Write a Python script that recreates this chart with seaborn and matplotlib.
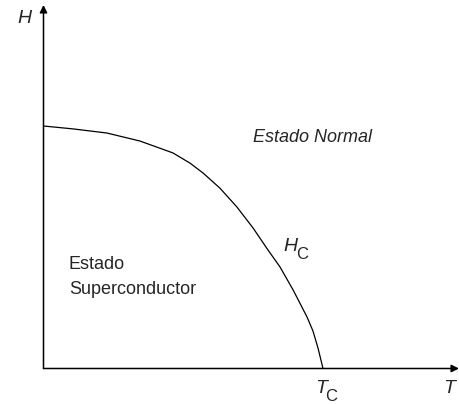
import matplotlib
matplotlib.use("Agg")
import matplotlib.pyplot as plt
import seaborn as sns
import pandas as pd

# Critical field curve H_c(T), temperature normalised to T_c and field to H_c(0)
temperature = [0.0, 0.106, 0.227, 0.345, 0.463, 0.524, 0.571, 0.631, 0.692,
               0.750, 0.803, 0.846, 0.893, 0.943, 0.964, 0.982, 1.0]
critical_field = [1.0, 0.988, 0.971, 0.938, 0.889, 0.847, 0.806, 0.744, 0.666,
                  0.579, 0.489, 0.419, 0.324, 0.212, 0.155, 0.085, 0.0]

region_labels = ["Estado Normal", "Estado", "Superconductor"]
axis_labels = ["H", "T"]
curve_label = ("H", "C")
tc_label = ("T", "C")

sns.set_theme(style="white")
plt.rcParams["font.family"] = ["Liberation Sans", "DejaVu Sans"]

W, Hpx = 460, 404
fig = plt.figure(figsize=(W / 100, Hpx / 100), dpi=100)
left, right, bottom, top = 43.5, 459.0, 368.5, 5.0
ax = fig.add_axes([left / W, 1 - bottom / Hpx, (right - left) / W, (bottom - top) / Hpx])

df = pd.DataFrame({"T": temperature, "H": critical_field})
sns.lineplot(data=df, x="T", y="H", sort=False, color="black", linewidth=0.9, ax=ax)

ax.set_xlim(0, (right - left) / 279.5)
ax.set_ylim(0, (bottom - top) / 242.5)
for s in ax.spines.values():
    s.set_visible(False)
ax.set_xticks([])
ax.set_yticks([])
ax.set_xlabel("")
ax.set_ylabel("")

# Axis arrows
arrow = dict(arrowstyle="-|>", color="black", lw=1.1, shrinkA=0, shrinkB=0, mutation_scale=11)
ax.annotate("", xy=(1, 0), xytext=(0, 0), xycoords="axes fraction", arrowprops=arrow, annotation_clip=False)
ax.annotate("", xy=(0, 1), xytext=(0, 0), xycoords="axes fraction", arrowprops=arrow, annotation_clip=False)

def fig_xy(px, py):
    return px / W, 1 - py / Hpx

# Axis labels
fig.text(*fig_xy(17, 23), axis_labels[0], fontsize=14, style="italic", ha="left", va="baseline")
fig.text(*fig_xy(443, 393), axis_labels[1], fontsize=14, style="italic", ha="left", va="baseline")

# Region labels
fig.text(*fig_xy(253, 142), region_labels[0], fontsize=13, style="italic", ha="left", va="baseline")
fig.text(*fig_xy(69, 269), region_labels[1], fontsize=13, ha="left", va="baseline")
fig.text(*fig_xy(69, 294), region_labels[2], fontsize=13, ha="left", va="baseline")

# Subscripted labels
def sub_label(px, py, main, sub, drop):
    t = fig.text(*fig_xy(px, py), main, fontsize=14, style="italic", ha="left", va="baseline")
    ax.annotate(sub, xy=(1, 0), xycoords=t, xytext=(-1.0, -drop), textcoords="offset points",
                fontsize=12, ha="left", va="baseline", annotation_clip=False)

sub_label(283, 251, *curve_label, 3)
sub_label(315, 393, *tc_label, 3)

fig.savefig("out.png", dpi=100)
